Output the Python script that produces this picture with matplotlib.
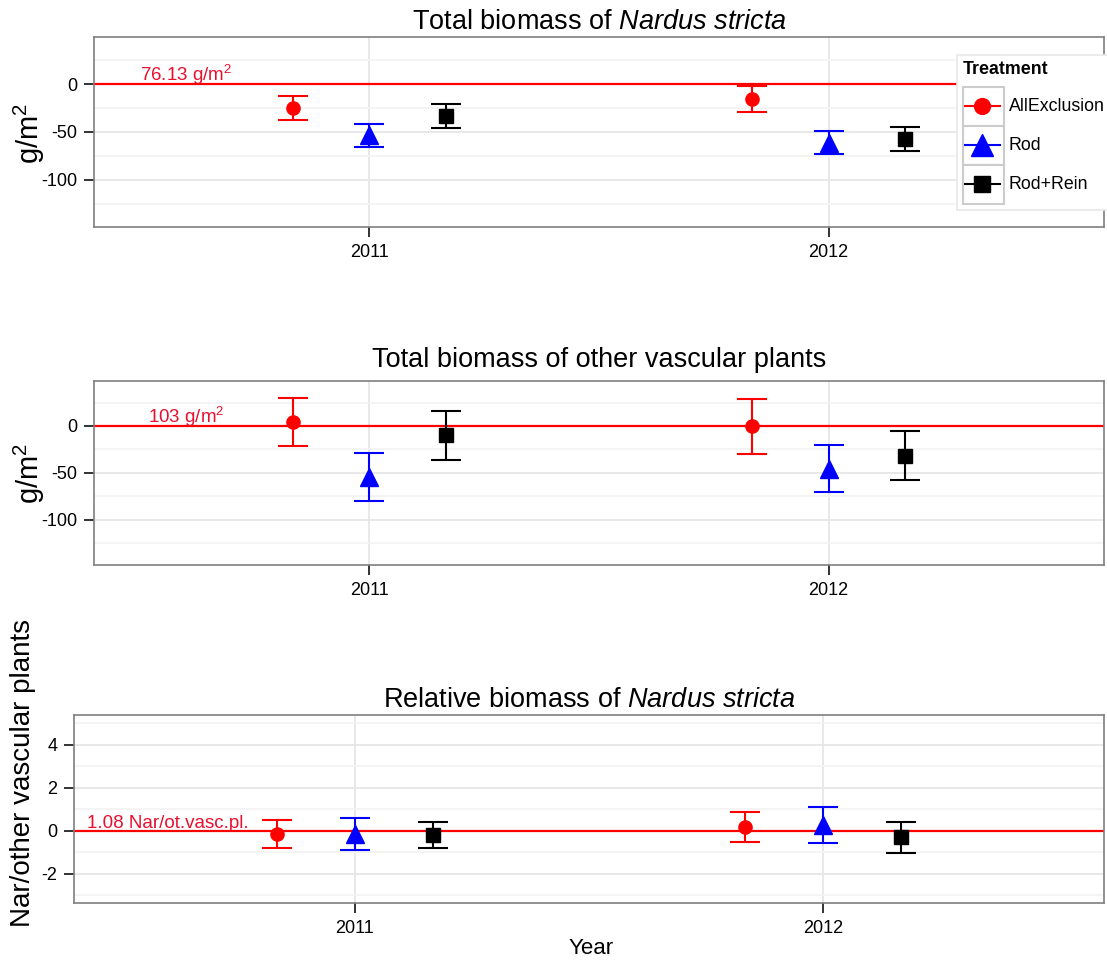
import numpy as np
import matplotlib
matplotlib.use('Agg')
import matplotlib.pyplot as plt
from matplotlib.lines import Line2D
from matplotlib.patches import Rectangle
from matplotlib.ticker import FixedLocator
from matplotlib.legend_handler import HandlerBase

plt.rcParams['font.family'] = 'Liberation Sans'
plt.rcParams['mathtext.fontset'] = 'custom'
plt.rcParams['mathtext.rm'] = 'Liberation Sans'
plt.rcParams['mathtext.it'] = 'Liberation Sans:italic'
plt.rcParams['mathtext.bf'] = 'Liberation Sans:bold'
plt.rcParams['axes.unicode_minus'] = False

# Veriler
years = [2011, 2012]
treatments = ['AllExclusion', 'Rod', 'Rod+Rein']

# Nardus stricta toplam biyokutle (g/m2, kontrol = 76.13)
nardus_mean = [[-25.2, -15.6], [-53.4, -61.2], [-33.7, -57.3]]
nardus_se = [[12.4, 13.9], [12.2, 12.2], [12.5, 12.5]]

# Diger vaskuler bitkiler (g/m2, kontrol = 103)
other_mean = [[3.9, -0.2], [-54.7, -45.5], [-10.2, -31.6]]
other_se = [[25.5, 29.3], [25.5, 25.5], [25.7, 25.9]]

# Oransal biyokutle (kontrol = 1.08)
rel_mean = [[-0.15, 0.16], [-0.15, 0.26], [-0.20, -0.31]]
rel_se = [[0.66, 0.70], [0.74, 0.84], [0.60, 0.71]]

colors = ['#ff0000', '#0000ff', '#000000']
markers = ['o', '^', 's']
msizes = [9.5, 13.5, 9.5]
offsets = [-1 / 6, 0, 1 / 6]

W, H = 1107, 964
fig = plt.figure(figsize=(W / 100, H / 100), dpi=100)


def panel(rect):
    l, t, r, b = rect
    return fig.add_axes([l / W, 1 - b / H, (r - l) / W, (b - t) / H])


def draw(ax, means, errs, ylim, major, minor, title, ref_text, pad):
    ax.set_xlim(2010.4, 2012.6)
    ax.set_ylim(*ylim)
    ax.xaxis.set_major_locator(FixedLocator(years))
    ax.xaxis.set_minor_locator(FixedLocator([]))
    ax.yaxis.set_major_locator(FixedLocator(major))
    ax.yaxis.set_minor_locator(FixedLocator(minor))
    ax.set_xticklabels([str(y) for y in years])
    ax.grid(which='major', color='#e6e6e6', lw=1.3)
    ax.grid(which='minor', axis='y', color='#f3f3f3', lw=1.3)
    ax.set_axisbelow(True)
    ax.axhline(0, color='#ff0000', lw=1.6, zorder=2)
    for i in range(len(treatments)):
        x = np.array(years) + offsets[i]
        ax.errorbar(x, means[i], yerr=errs[i], fmt=markers[i], color=colors[i],
                    ms=msizes[i], capsize=10.5, capthick=1.5, elinewidth=1.5,
                    zorder=3)
    ax.annotate(ref_text, xy=(2010.6, 0), xytext=(0, 2), textcoords='offset points',
                ha='center', va='baseline', color='#e8102e', fontsize=13.5)
    ax.set_title(title, fontsize=19.5, pad=pad)
    for s in ax.spines.values():
        s.set_color('#7f7f7f')
        s.set_linewidth(1.2)
    ax.tick_params(which='major', length=7, width=1.4, color='#333333',
                   labelsize=13, labelcolor='black', pad=5)
    ax.tick_params(which='minor', length=0)


ax1 = panel((94, 37, 1104, 227))
ax2 = panel((94, 381, 1104, 565))
ax3 = panel((74, 715, 1104, 903))

draw(ax1, nardus_mean, nardus_se, (-149, 49), [-100, -50, 0], [-125, -75, -25, 25],
     r'Total biomass of $\mathit{Nardus\ stricta}$', r'76.13 g/m$^2$', 6)
draw(ax2, other_mean, other_se, (-148.5, 48), [-100, -50, 0], [-125, -75, -25, 25],
     'Total biomass of other vascular plants', r'103 g/m$^2$', 10)
draw(ax3, rel_mean, rel_se, (-3.36, 5.37), [-2, 0, 2, 4], [-3, -1, 1, 3, 5],
     r'Relative biomass of $\mathit{Nardus\ stricta}$', '1.08 Nar/ot.vasc.pl.', 6)

# Eksen basliklari
fig.text(29 / W, 1 - 133 / H, r'g/m$^2$', rotation=90, ha='center', va='center', fontsize=21)
fig.text(29 / W, 1 - 473 / H, r'g/m$^2$', rotation=90, ha='center', va='center', fontsize=21)
fig.text(23 / W, 1 - 773 / H, 'Nar/other vascular plants', rotation=90, ha='center',
         va='center', fontsize=20)
fig.text(591 / W, 1 - 948 / H, 'Year', ha='center', va='center', fontsize=16)


# Lejant: gri cerceveli anahtar kutusu, ortasinda cizgi + isaret
class LegendKey:
    def __init__(self, color, marker, ms):
        self.color = color
        self.marker = marker
        self.ms = ms


class KeyHandler(HandlerBase):
    def create_artists(self, legend, key, xdescent, ydescent, width, height,
                       fontsize, trans):
        x0, y0 = -xdescent, -ydescent
        yc = y0 + height / 2
        box = Rectangle((x0, y0), width, height, facecolor='white',
                        edgecolor='#cccccc', lw=1.5, transform=trans)
        ln = Line2D([x0 + 0.05 * width, x0 + 0.9 * width], [yc, yc],
                    color=key.color, lw=1.5, transform=trans)
        mk = Line2D([x0 + 0.47 * width], [yc], marker=key.marker, ms=key.ms,
                    color=key.color, ls='none', transform=trans)
        return [box, ln, mk]


handles = [LegendKey(colors[i], markers[i], msizes[i] * 1.2) for i in range(len(treatments))]
leg = ax1.legend(handles, treatments, handler_map={LegendKey: KeyHandler()},
                 loc='upper left', bbox_to_anchor=(957 / W, 1 - 55 / H),
                 bbox_transform=fig.transFigure, borderaxespad=0, title='Treatment',
                 title_fontproperties={'weight': 'bold', 'size': 12.8}, fontsize=12.8,
                 frameon=True, fancybox=False, edgecolor='#e8e8e8', framealpha=1,
                 handlelength=2.3, handleheight=3.0, labelspacing=0, handletextpad=0.25,
                 borderpad=0.35, alignment='left')
leg._legend_box.sep = 6
leg.get_frame().set_linewidth(1.2)
leg.set_zorder(10)

fig.savefig('out.png', dpi=100)
